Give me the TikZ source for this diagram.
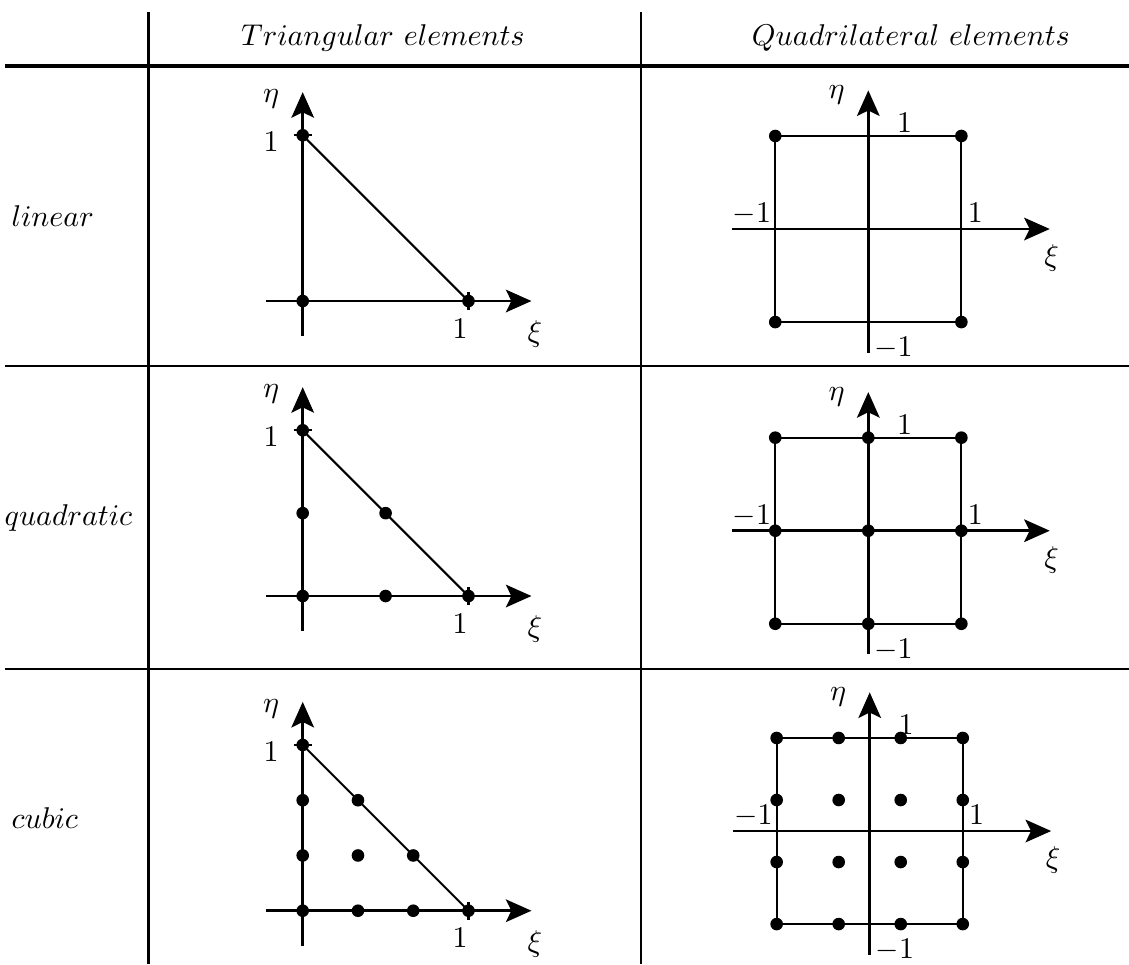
\documentclass[tikz,border=0pt]{standalone}
\usetikzlibrary{arrows.meta}
\begin{document}
\begin{tikzpicture}[x=0.01171cm, y=-0.01171cm,
  >={Stealth[length=8.5pt, width=7.5pt, inset=1.8pt]},
  axis/.style={->, line width=0.95pt},
  edge/.style={line width=0.7pt},
  rule/.style={line width=0.85pt}]
  \useasboundingbox (0,0) rectangle (1129,964);

  % Table rules and headings
  \draw[rule, line width=1.05pt] (5,66) -- (1129,66);
  \draw[rule] (5,366) -- (1129,366);
  \draw[rule] (5,669) -- (1129,669);
  \draw[rule] (148.5,12) -- (148.5,964);
  \draw[rule] (641,12) -- (641,964);
  \node (headTri) at (383,38) {$Triangular\ elements$};
  \node (headQuad) at (911,38) {$Quadrilateral\ elements$};
  \node[anchor=west, inner sep=0pt] (rowLin) at (11,216) {$linear$};
  \node[anchor=west, inner sep=0pt] (rowQuad) at (4,518) {$quadratic$};
  \node[anchor=west, inner sep=0pt] (rowCub) at (11,818) {$cubic$};

  % Linear triangle
  \begin{scope}[shift={(302.7,301)}, x=1.94cm, y=1.94cm]
    \draw[axis] (-0.22,0) -- (1.38,0);
    \draw[axis] (0,-0.21) -- (0,1.26);
    \draw[edge] (0,1) -- (1,0);
    \draw[edge] (-0.055,1) -- (0.055,1);
    \draw[edge] (1,-0.055) -- (1,0.055);
    \node (linEta) at (-0.19,1.22) {$\eta$};
    \node (linEtaOne) at (-0.19,0.96) {$1$};
    \node (linXiOne) at (0.95,-0.165) {$1$};
    \node (linXi) at (1.40,-0.2) {$\xi$};
    \foreach \p in {(0,0),(1,0),(0,1)}
      \fill \p circle (2.1pt);
  \end{scope}

  % Quadratic triangle
  \begin{scope}[shift={(302.7,596)}, x=1.94cm, y=1.94cm]
    \draw[axis] (-0.22,0) -- (1.38,0);
    \draw[axis] (0,-0.21) -- (0,1.26);
    \draw[edge] (0,1) -- (1,0);
    \draw[edge] (-0.055,1) -- (0.055,1);
    \draw[edge] (1,-0.055) -- (1,0.055);
    \node (quaEta) at (-0.19,1.22) {$\eta$};
    \node (quaEtaOne) at (-0.19,0.96) {$1$};
    \node (quaXiOne) at (0.95,-0.165) {$1$};
    \node (quaXi) at (1.40,-0.2) {$\xi$};
    \foreach \p in {(0,0),(0.5,0),(1,0),(0,0.5),(0.5,0.5),(0,1)}
      \fill \p circle (2.1pt);
  \end{scope}

  % Cubic triangle
  \begin{scope}[shift={(302.7,910.7)}, x=1.94cm, y=1.94cm]
    \draw[axis] (-0.22,0) -- (1.38,0);
    \draw[axis] (0,-0.21) -- (0,1.26);
    \draw[edge] (0,1) -- (1,0);
    \draw[edge] (-0.055,1) -- (0.055,1);
    \draw[edge] (1,-0.055) -- (1,0.055);
    \node (cubEta) at (-0.19,1.22) {$\eta$};
    \node (cubEtaOne) at (-0.19,0.96) {$1$};
    \node (cubXiOne) at (0.95,-0.165) {$1$};
    \node (cubXi) at (1.40,-0.2) {$\xi$};
    \foreach \i/\j in {0/0,1/0,2/0,3/0,0/1,1/1,2/1,0/2,1/2,0/3}
      \fill (\i/3,\j/3) circle (2.1pt);
  \end{scope}

  % Linear quadrilateral
  \begin{scope}[shift={(868.3,229)}, x=1.089cm, y=1.089cm]
    \draw[edge] (-1,-1) rectangle (1,1);
    \draw[axis] (-1.47,0) -- (1.95,0);
    \draw[axis] (0,-1.33) -- (0,1.49);
    \node (qlinEta) at (-0.34,1.44) {$\eta$};
    \node (qlinTop) at (0.39,1.14) {$1$};
    \node (qlinLeft) at (-1.25,0.16) {$-1$};
    \node (qlinRight) at (1.15,0.17) {$1$};
    \node (qlinXi) at (1.97,-0.31) {$\xi$};
    \node (qlinBot) at (0.27,-1.28) {$-1$};
    \foreach \p in {(-1,-1),(1,-1),(1,1),(-1,1)}
      \fill \p circle (2.1pt);
  \end{scope}

  % Quadratic quadrilateral
  \begin{scope}[shift={(868.3,530.7)}, x=1.089cm, y=1.089cm]
    \draw[edge] (-1,-1) rectangle (1,1);
    \draw[axis] (-1.47,0) -- (1.95,0);
    \draw[axis] (0,-1.33) -- (0,1.49);
    \node (qquaEta) at (-0.34,1.44) {$\eta$};
    \node (qquaTop) at (0.39,1.14) {$1$};
    \node (qquaLeft) at (-1.25,0.16) {$-1$};
    \node (qquaRight) at (1.15,0.17) {$1$};
    \node (qquaXi) at (1.97,-0.31) {$\xi$};
    \node (qquaBot) at (0.27,-1.28) {$-1$};
    \foreach \i in {-1,0,1}
      \foreach \j in {-1,0,1}
        \fill (\i,\j) circle (2.1pt);
  \end{scope}

  % Cubic quadrilateral
  \begin{scope}[shift={(869.7,831)}, x=1.089cm, y=1.089cm]
    \draw[edge] (-1,-1) rectangle (1,1);
    \draw[axis] (-1.47,0) -- (1.95,0);
    \draw[axis] (0,-1.33) -- (0,1.49);
    \node (qcubEta) at (-0.34,1.44) {$\eta$};
    \node (qcubTop) at (0.39,1.14) {$1$};
    \node (qcubLeft) at (-1.25,0.16) {$-1$};
    \node (qcubRight) at (1.15,0.17) {$1$};
    \node (qcubXi) at (1.97,-0.31) {$\xi$};
    \node (qcubBot) at (0.27,-1.28) {$-1$};
    \foreach \i in {-1,-1/3,1/3,1}
      \foreach \j in {-1,-1/3,1/3,1}
        \fill (\i,\j) circle (2.1pt);
  \end{scope}
\end{tikzpicture}
\end{document}
